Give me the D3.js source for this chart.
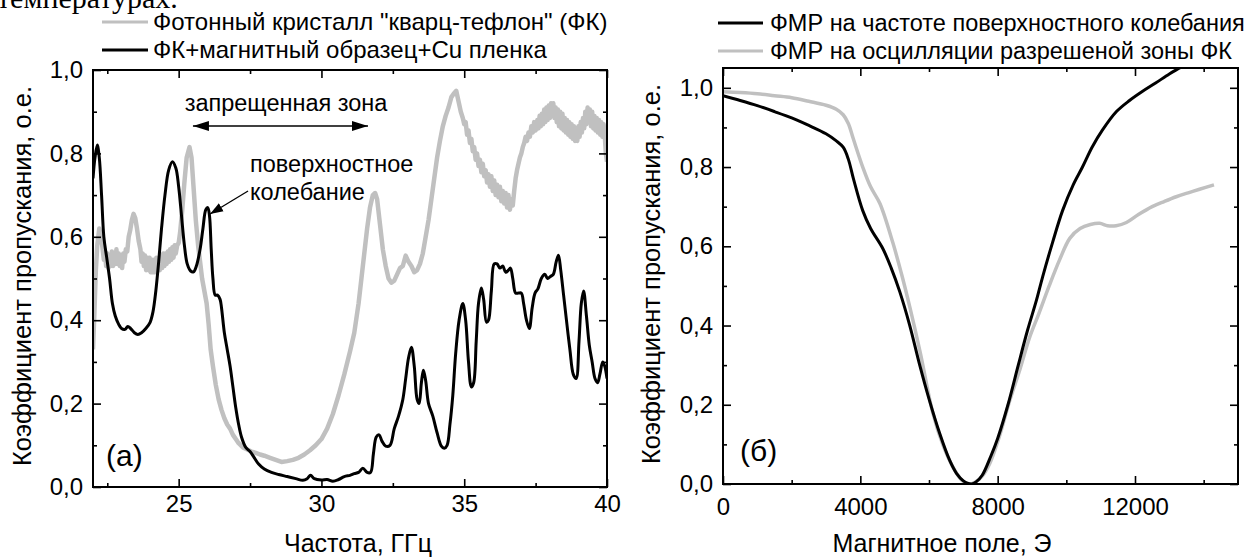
<!DOCTYPE html>
<html><head><meta charset="utf-8">
<script src="https://cdn.jsdelivr.net/npm/d3@7"></script>
<style>
html,body{margin:0;padding:0;background:#fff;}
svg{display:block;font-family:"Liberation Sans",Arial,sans-serif;}
</style></head>
<body>
<svg id="c" width="1259" height="558"></svg>
<script>
// ---------- DATA ----------
// Panel (a): photonic crystal "quartz-teflon" transmission, [GHz, a.u.]
const crystal = [
 [22.00,0.33],[22.05,0.42],[22.10,0.52],[22.15,0.58],[22.22,0.62],[22.28,0.60],[22.33,0.575],[22.38,0.545],[22.42,0.565],[22.46,0.53],
 [22.50,0.56],[22.54,0.525],[22.58,0.555],[22.62,0.53],[22.66,0.565],[22.70,0.53],[22.74,0.56],[22.78,0.535],[22.82,0.57],[22.86,0.535],
 [22.90,0.56],[22.94,0.53],[22.98,0.555],[23.02,0.525],[23.06,0.56],[23.10,0.54],[23.15,0.57],[23.20,0.565],[23.25,0.60],[23.30,0.615],
 [23.36,0.64],[23.42,0.655],[23.48,0.645],[23.54,0.62],[23.60,0.59],[23.66,0.57],[23.70,0.54],[23.74,0.56],[23.78,0.53],[23.82,0.555],
 [23.86,0.52],[23.90,0.55],[23.94,0.52],[23.98,0.55],[24.02,0.515],[24.06,0.545],[24.10,0.515],[24.14,0.545],[24.18,0.515],[24.22,0.55],
 [24.26,0.52],[24.30,0.55],[24.34,0.52],[24.38,0.555],[24.42,0.525],[24.46,0.56],[24.50,0.53],[24.54,0.56],[24.58,0.535],[24.62,0.565],
 [24.66,0.54],[24.70,0.57],[24.74,0.545],[24.78,0.575],[24.82,0.55],[24.86,0.58],[24.90,0.56],[24.95,0.58],[25.00,0.585],[25.05,0.61],
 [25.12,0.66],[25.20,0.73],[25.28,0.79],[25.38,0.815],[25.45,0.79],[25.52,0.72],[25.60,0.64],[25.68,0.58],[25.75,0.54],[25.82,0.50],
 [25.90,0.47],[25.98,0.44],[26.05,0.39],[26.12,0.33],[26.20,0.29],[26.30,0.245],[26.40,0.21],[26.50,0.185],[26.60,0.165],[26.70,0.15],
 [26.80,0.14],[26.90,0.125],[27.00,0.115],[27.10,0.105],[27.25,0.095],[27.40,0.09],[27.55,0.085],[27.70,0.082],[27.85,0.078],[28.00,0.075],
 [28.20,0.07],[28.40,0.065],[28.60,0.06],[28.80,0.062],[29.00,0.065],[29.20,0.07],[29.40,0.078],[29.60,0.088],[29.80,0.10],[30.00,0.115],
 [30.20,0.14],[30.40,0.175],[30.60,0.22],[30.80,0.27],[31.00,0.325],[31.15,0.37],[31.30,0.44],[31.40,0.50],[31.50,0.56],[31.60,0.62],
 [31.70,0.67],[31.80,0.70],[31.88,0.705],[31.95,0.69],[32.05,0.63],[32.15,0.57],[32.25,0.53],[32.35,0.50],[32.45,0.49],[32.55,0.495],
 [32.65,0.51],[32.75,0.525],[32.85,0.53],[32.95,0.555],[33.05,0.54],[33.15,0.53],[33.25,0.515],[33.35,0.52],[33.45,0.535],[33.55,0.56],
 [33.65,0.60],[33.75,0.64],[33.85,0.69],[33.95,0.74],[34.05,0.79],[34.15,0.83],[34.25,0.865],[34.35,0.89],[34.45,0.91],[34.55,0.935],
 [34.65,0.945],[34.72,0.95],[34.80,0.925],[34.88,0.90],[34.95,0.885],[35.00,0.87],[35.05,0.875],[35.10,0.845],[35.15,0.855],[35.20,0.825],
 [35.25,0.835],[35.30,0.805],[35.35,0.815],[35.40,0.785],[35.45,0.80],[35.50,0.77],[35.55,0.785],[35.60,0.755],[35.65,0.775],[35.70,0.745],
 [35.75,0.76],[35.80,0.73],[35.85,0.75],[35.90,0.72],[35.95,0.745],[36.00,0.71],[36.05,0.735],[36.10,0.70],[36.15,0.725],[36.20,0.695],
 [36.25,0.72],[36.30,0.685],[36.35,0.71],[36.40,0.68],[36.45,0.705],[36.50,0.67],[36.55,0.70],[36.60,0.665],[36.65,0.69],[36.70,0.675],
 [36.75,0.71],[36.80,0.74],[36.85,0.76],[36.90,0.775],[36.95,0.79],[37.00,0.80],[37.05,0.815],[37.10,0.825],[37.15,0.84],[37.20,0.83],
 [37.25,0.85],[37.30,0.84],[37.35,0.865],[37.40,0.85],[37.45,0.875],[37.50,0.855],[37.56,0.88],[37.60,0.86],[37.64,0.89],[37.68,0.865],
 [37.72,0.895],[37.76,0.87],[37.80,0.905],[37.84,0.875],[37.88,0.91],[37.92,0.88],[37.96,0.915],[38.00,0.885],[38.04,0.92],[38.08,0.89],
 [38.12,0.92],[38.16,0.885],[38.20,0.91],[38.24,0.875],[38.28,0.905],[38.32,0.865],[38.36,0.90],[38.40,0.86],[38.44,0.895],[38.48,0.855],
 [38.52,0.885],[38.56,0.85],[38.60,0.88],[38.64,0.845],[38.68,0.875],[38.72,0.84],[38.76,0.87],[38.80,0.835],[38.84,0.865],[38.88,0.83],
 [38.92,0.86],[38.96,0.83],[39.00,0.865],[39.04,0.84],[39.08,0.875],[39.12,0.85],[39.16,0.885],[39.20,0.86],[39.24,0.9],[39.28,0.87],
 [39.32,0.91],[39.36,0.875],[39.40,0.905],[39.44,0.865],[39.48,0.9],[39.52,0.86],[39.56,0.89],[39.60,0.855],[39.64,0.885],[39.68,0.85],
 [39.72,0.88],[39.76,0.845],[39.80,0.875],[39.84,0.84],[39.88,0.87],[39.92,0.845],[39.96,0.80],[40.00,0.78]
];

// Panel (a): photonic crystal + magnetic sample + Cu film
const sampleX = [22.00,22.07,22.15,22.22,22.30,22.38,22.48,22.58,22.68,22.78,22.90,23.00,23.12,23.22,23.32,23.45,23.57,23.70,23.85,24.00,24.10,24.20,24.30,24.40,24.52,24.65,24.78,24.90,25.00,25.10,25.20,25.30,25.42,25.52,25.62,25.75,25.85,25.95,26.02,26.08,26.14,26.20,26.28,26.36,26.45,26.50,26.60,26.70,26.80,26.90,27.00,27.10,27.20,27.35,27.50,27.65,27.80,28.00,28.25,28.50,28.80,29.10,29.35,29.50,29.62,29.75,30.00,30.20,30.40,30.60,30.80,31.00,31.15,31.30,31.45,31.60,31.72,31.82,31.92,32.02,32.12,32.25,32.40,32.55,32.70,32.85,32.95,33.05,33.15,33.25,33.35,33.42,33.50,33.57,33.65,33.75,33.90,34.05,34.20,34.30,34.40,34.50,34.60,34.70,34.82,34.95,35.05,35.15,35.25,35.33,35.42,35.50,35.60,35.68,35.78,35.85,35.95,36.05,36.15,36.25,36.35,36.45,36.55,36.62,36.70,36.80,36.90,37.00,37.08,37.18,37.28,37.38,37.48,37.58,37.70,37.82,37.92,38.02,38.12,38.22,38.30,38.38,38.48,38.58,38.70,38.82,38.92,39.02,39.10,39.18,39.28,39.38,39.48,39.58,39.67,39.75,39.85,39.92,40.00];
const sampleY = [0.74,0.79,0.82,0.79,0.70,0.60,0.55,0.50,0.44,0.41,0.39,0.38,0.378,0.385,0.38,0.37,0.366,0.37,0.38,0.395,0.42,0.47,0.54,0.62,0.70,0.76,0.78,0.765,0.72,0.65,0.58,0.535,0.518,0.516,0.53,0.57,0.62,0.665,0.67,0.65,0.57,0.50,0.46,0.46,0.45,0.43,0.37,0.33,0.29,0.24,0.19,0.15,0.12,0.095,0.085,0.07,0.055,0.043,0.035,0.03,0.025,0.02,0.016,0.02,0.028,0.02,0.017,0.018,0.014,0.018,0.025,0.028,0.032,0.035,0.045,0.035,0.035,0.08,0.12,0.125,0.11,0.098,0.10,0.14,0.17,0.21,0.26,0.31,0.335,0.29,0.21,0.20,0.25,0.28,0.255,0.20,0.17,0.13,0.098,0.093,0.10,0.15,0.22,0.32,0.40,0.44,0.40,0.30,0.24,0.25,0.35,0.44,0.477,0.45,0.395,0.40,0.47,0.535,0.535,0.525,0.53,0.515,0.52,0.525,0.50,0.465,0.465,0.465,0.44,0.40,0.38,0.43,0.465,0.475,0.50,0.51,0.50,0.505,0.51,0.54,0.556,0.52,0.46,0.40,0.33,0.27,0.26,0.35,0.44,0.47,0.41,0.34,0.30,0.26,0.25,0.27,0.30,0.29,0.26];

// Panel (б): magnetic field (Oe) vs transmission
const surfX = [0,500,1000,1500,2000,2500,3000,3300,3500,3650,3800,4070,4300,4650,4900,5150,5440,5730,6000,6310,6600,6800,7000,7120,7240,7380,7550,7800,8000,8300,8600,8870,9130,9310,9600,9890,10200,10470,10750,11050,11460,11840,12200,12600,13000,13300,13600];
const surfY = [0.98,0.968,0.955,0.94,0.924,0.905,0.884,0.866,0.85,0.82,0.77,0.69,0.645,0.595,0.545,0.485,0.40,0.30,0.215,0.128,0.06,0.027,0.008,0.002,0.0,0.006,0.022,0.07,0.115,0.2,0.3,0.388,0.464,0.523,0.61,0.69,0.755,0.80,0.85,0.893,0.94,0.968,0.99,1.012,1.035,1.05,1.065];

const oscX = [0,500,1000,1500,2000,2500,3000,3300,3500,3650,3800,4070,4300,4570,4950,5200,5440,5750,6110,6400,6690,6950,7130,7350,7550,7770,8050,8350,8650,8930,9200,9500,9800,10100,10400,10700,10970,11200,11450,11750,12100,12500,12850,13200,13550,13880,14300];
const oscY = [0.99,0.988,0.985,0.98,0.975,0.966,0.956,0.946,0.932,0.91,0.87,0.80,0.75,0.708,0.608,0.53,0.447,0.33,0.18,0.10,0.044,0.01,0.0,0.005,0.02,0.052,0.12,0.21,0.29,0.37,0.43,0.5,0.565,0.62,0.645,0.655,0.658,0.652,0.652,0.66,0.68,0.70,0.713,0.725,0.735,0.744,0.755];

const leftXTicks = [25,30,35,40];
const leftXMinor = [22.5,27.5,32.5,37.5];
const yTicks = [0,0.2,0.4,0.6,0.8,1.0];
const yMinor = [0.1,0.3,0.5,0.7,0.9];
const rightXTicks = [0,4000,8000,12000];
const rightXMinor = [2000,6000,10000,14000];

const legendA = ['Фотонный кристалл "кварц-тефлон" (ФК)', 'ФК+магнитный образец+Cu пленка'];
const legendB = ['ФМР на частоте поверхностного колебания', 'ФМР на осцилляции разрешеной зоны ФК'];

// ---------- DRAW ----------
const svg = d3.select("#c");
const GREY = "#c0c0c0", BLACK = "#000";
const fmt = v => d3.format(".1f")(v).replace(".", ",");

// top clipped text (continuation of page text above the figure)
svg.append("text").attr("x", -3).attr("y", 8)
  .style("font-family", '"Liberation Serif","Times New Roman",serif').style("font-size", "30px")
  .text("температурах.");

function panel(cfg) {
  const g = svg.append("g");
  const x = d3.scaleLinear().domain(cfg.xd).range([cfg.L, cfg.R]);
  const y = d3.scaleLinear().domain(cfg.yd).range([cfg.B, cfg.T]);
  const id = "clip" + cfg.name;
  svg.append("clipPath").attr("id", id).append("rect")
    .attr("x", cfg.L).attr("y", cfg.T).attr("width", cfg.R - cfg.L).attr("height", cfg.B - cfg.T);

  const plot = g.append("g").attr("clip-path", `url(#${id})`);
  cfg.series.forEach(s => {
    plot.append("path").datum(s.pts)
      .attr("fill", "none").attr("stroke", s.color).attr("stroke-width", s.w)
      .attr("stroke-linejoin", "round")
      .attr("d", d3.line().x(d => x(d[0])).y(d => y(d[1])).curve(s.curve));
  });

  const axStyle = sel => {
    sel.select(".domain").remove();
    sel.selectAll(".tick line").attr("stroke", "#000").attr("stroke-width", 1.6);
    sel.selectAll("text").style("font-size", "24px").attr("fill", "#000");
  };
  // bottom
  g.append("g").attr("transform", `translate(0,${cfg.B})`)
    .call(d3.axisBottom(x).tickValues(cfg.xt).tickSize(-8).tickPadding(cfg.xPad).tickFormat(cfg.xf)).call(axStyle);
  g.append("g").attr("transform", `translate(0,${cfg.B})`)
    .call(d3.axisBottom(x).tickValues(cfg.xm).tickSize(-4).tickFormat("")).call(axStyle);
  // top
  g.append("g").attr("transform", `translate(0,${cfg.T})`)
    .call(d3.axisTop(x).tickValues(cfg.xt).tickSize(-8).tickFormat("")).call(axStyle);
  g.append("g").attr("transform", `translate(0,${cfg.T})`)
    .call(d3.axisTop(x).tickValues(cfg.xm).tickSize(-4).tickFormat("")).call(axStyle);
  // left
  g.append("g").attr("transform", `translate(${cfg.L},0)`)
    .call(d3.axisLeft(y).tickValues(yTicks).tickSize(-8).tickPadding(10).tickFormat(fmt)).call(axStyle);
  g.append("g").attr("transform", `translate(${cfg.L},0)`)
    .call(d3.axisLeft(y).tickValues(yMinor).tickSize(-4).tickFormat("")).call(axStyle);
  // right
  g.append("g").attr("transform", `translate(${cfg.R},0)`)
    .call(d3.axisRight(y).tickValues(yTicks).tickSize(-8).tickFormat("")).call(axStyle);
  g.append("g").attr("transform", `translate(${cfg.R},0)`)
    .call(d3.axisRight(y).tickValues(yMinor).tickSize(-4).tickFormat("")).call(axStyle);

  g.append("rect").attr("x", cfg.L).attr("y", cfg.T).attr("width", cfg.R - cfg.L).attr("height", cfg.B - cfg.T)
    .attr("fill", "none").attr("stroke", "#000").attr("stroke-width", 2);

  // titles
  g.append("text").attr("x", cfg.xTitleX).attr("y", 552).attr("text-anchor", "middle")
    .style("font-size", "25px").text(cfg.xTitle);
  g.append("text").attr("transform", `translate(${cfg.yTitleX},${cfg.yTitleY}) rotate(-90)`)
    .attr("text-anchor", "middle").style("font-size", "25.5px").text(cfg.yTitle);
  g.append("text").attr("x", cfg.panelLabel[0]).attr("y", cfg.panelLabel[1])
    .style("font-size", "30px").text(cfg.panelLabel[2]);

  // legend
  cfg.legend.forEach((l, i) => {
    const ly = cfg.legY[i];
    svg.append("line").attr("x1", cfg.legX[0]).attr("x2", cfg.legX[1]).attr("y1", ly).attr("y2", ly)
      .attr("stroke", l.color).attr("stroke-width", 3);
    svg.append("text").attr("x", cfg.legX[2]).attr("y", ly + 8).style("font-size", cfg.legFont).text(l.text);
  });
  return {x, y, g};
}

const zip = (xs, ys) => xs.map((v, i) => [v, ys[i]]);

const A = panel({
  name: "a", L: 93, R: 607, T: 70, B: 487, xd: [22, 40], yd: [0, 1.0],
  xt: leftXTicks, xm: leftXMinor, xf: d3.format("d"), xPad: 8,
  series: [
    {pts: crystal, color: GREY, w: 4.5, curve: d3.curveLinear},
    {pts: zip(sampleX, sampleY), color: BLACK, w: 3, curve: d3.curveCatmullRom.alpha(0.5)}
  ],
  xTitle: "Частота, ГГц", xTitleX: 358, yTitle: "Коэффициент пропускания, о.е.", yTitleX: 31, yTitleY: 276,
  panelLabel: [106, 466, "(a)"],
  legend: [{color: GREY, text: legendA[0]}, {color: BLACK, text: legendA[1]}],
  legX: [102, 148, 153], legY: [22, 50], legFont: "24px"
});

const B = panel({
  name: "b", L: 723, R: 1238, T: 68, B: 484, xd: [0, 15000], yd: [0, 1.05],
  xt: rightXTicks, xm: rightXMinor, xf: d3.format("d"), xPad: 14,
  series: [
    {pts: zip(oscX, oscY), color: GREY, w: 3.5, curve: d3.curveCatmullRom.alpha(0.5)},
    {pts: zip(surfX, surfY), color: BLACK, w: 3, curve: d3.curveCatmullRom.alpha(0.5)}
  ],
  xTitle: "Магнитное поле, Э", xTitleX: 942, yTitle: "Коэффициент пропускания, о.е.", yTitleX: 660, yTitleY: 274,
  panelLabel: [740, 461, "(б)"],
  legend: [{color: BLACK, text: legendB[0]}, {color: GREY, text: legendB[1]}],
  legX: [718, 763, 770], legY: [23, 51], legFont: "23.5px"
});

// annotations in panel (a)
const defs = svg.append("defs");
defs.append("marker").attr("id", "ah").attr("viewBox", "0 0 10 10").attr("refX", 10).attr("refY", 5)
  .attr("markerWidth", 16).attr("markerHeight", 16).attr("markerUnits", "userSpaceOnUse").attr("orient", "auto-start-reverse")
  .append("path").attr("d", "M0,1.8 L10,5 L0,8.2 z").attr("fill", "#000");
defs.append("marker").attr("id", "ah2").attr("viewBox", "0 0 10 10").attr("refX", 10).attr("refY", 5)
  .attr("markerWidth", 13).attr("markerHeight", 13).attr("markerUnits", "userSpaceOnUse").attr("orient", "auto")
  .append("path").attr("d", "M0,1.5 L10,5 L0,8.5 z").attr("fill", "#000");

svg.append("text").attr("x", A.x(28.76)).attr("y", 111).attr("text-anchor", "middle").style("font-size", "23.5px").text("запрещенная зона");
svg.append("line").attr("x1", A.x(25.5)).attr("x2", A.x(31.63)).attr("y1", 126).attr("y2", 126)
  .attr("stroke", "#000").attr("stroke-width", 1.6)
  .attr("marker-start", "url(#ah)").attr("marker-end", "url(#ah)");

svg.append("text").attr("x", A.x(27.5)).attr("y", 172).style("font-size", "23.5px").text("поверхностное");
svg.append("text").attr("x", A.x(27.5)).attr("y", 200).style("font-size", "23.5px").text("колебание");
svg.append("line").attr("x1", A.x(27.43)).attr("y1", 191).attr("x2", A.x(26.1)).attr("y2", 214)
  .attr("stroke", "#000").attr("stroke-width", 1.3).attr("marker-end", "url(#ah2)");
</script>
</body></html>
